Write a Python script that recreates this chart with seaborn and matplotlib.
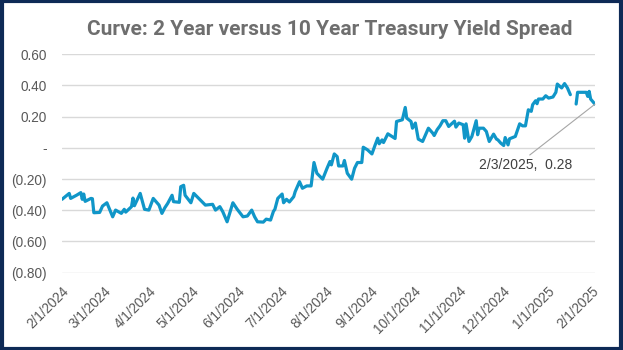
import matplotlib
matplotlib.use("Agg")
import matplotlib.pyplot as plt
import matplotlib.patches as mpatches
import seaborn as sns
import pandas as pd
import numpy as np

dates = [
    "2024-02-01", "2024-02-06", "2024-02-07", "2024-02-11", "2024-02-14", "2024-02-15", "2024-02-16", "2024-02-17",
    "2024-02-21", "2024-02-22", "2024-02-23", "2024-02-27", "2024-02-29", "2024-03-03", "2024-03-07", "2024-03-09",
    "2024-03-13", "2024-03-15", "2024-03-16", "2024-03-20", "2024-03-21", "2024-03-22", "2024-03-26", "2024-03-29",
    "2024-04-01", "2024-04-04", "2024-04-08", "2024-04-10", "2024-04-12", "2024-04-14", "2024-04-17", "2024-04-18",
    "2024-04-22", "2024-04-23", "2024-04-25", "2024-04-26", "2024-04-30", "2024-05-02", "2024-05-06", "2024-05-10",
    "2024-05-15", "2024-05-17", "2024-05-20", "2024-05-22", "2024-05-25", "2024-05-29", "2024-06-01", "2024-06-05",
    "2024-06-08", "2024-06-11", "2024-06-13", "2024-06-15", "2024-06-19", "2024-06-21", "2024-06-24", "2024-06-26",
    "2024-06-27", "2024-06-29", "2024-07-02", "2024-07-03", "2024-07-05", "2024-07-07", "2024-07-10", "2024-07-11",
    "2024-07-14", "2024-07-16", "2024-07-19", "2024-07-22", "2024-07-24", "2024-07-26", "2024-07-30", "2024-08-02",
    "2024-08-04", "2024-08-05", "2024-08-07", "2024-08-09", "2024-08-10", "2024-08-13", "2024-08-14", "2024-08-16",
    "2024-08-19", "2024-08-21", "2024-08-23", "2024-08-26", "2024-08-27", "2024-08-30", "2024-09-02", "2024-09-04",
    "2024-09-06", "2024-09-07", "2024-09-09", "2024-09-10", "2024-09-13", "2024-09-18", "2024-09-19", "2024-09-23",
    "2024-09-25", "2024-09-26", "2024-09-29", "2024-09-30", "2024-10-02", "2024-10-04", "2024-10-07", "2024-10-11",
    "2024-10-14", "2024-10-15", "2024-10-17", "2024-10-19", "2024-10-21", "2024-10-23", "2024-10-25", "2024-10-29",
    "2024-10-30", "2024-11-01", "2024-11-04", "2024-11-05", "2024-11-06", "2024-11-08", "2024-11-10", "2024-11-13",
    "2024-11-14", "2024-11-15", "2024-11-18", "2024-11-20", "2024-11-22", "2024-11-25", "2024-11-27", "2024-11-28",
    "2024-11-30", "2024-12-02", "2024-12-03", "2024-12-05", "2024-12-06", "2024-12-10", "2024-12-13", "2024-12-15",
    "2024-12-17", "2024-12-19", "2024-12-21", "2024-12-22", "2024-12-24", "2024-12-25", "2024-12-26", "2024-12-29",
    "2024-12-31", "2025-01-02", "2025-01-05", "2025-01-07", "2025-01-08", "2025-01-11", "2025-01-13", "2025-01-15",
    "2025-01-17", "2025-01-20", "2025-01-21", "2025-01-22", "2025-01-28", "2025-01-29", "2025-01-30", "2025-01-31",
    "2025-02-03",
]

spread = [
    -0.330, -0.292, -0.324, -0.304, -0.287, -0.330, -0.296, -0.343,
    -0.324, -0.326, -0.416, -0.414, -0.373, -0.352, -0.442, -0.399,
    -0.420, -0.394, -0.412, -0.377, -0.322, -0.371, -0.292, -0.394,
    -0.399, -0.324, -0.367, -0.420, -0.384, -0.356, -0.304, -0.345,
    -0.349, -0.249, -0.240, -0.304, -0.352, -0.292, -0.330, -0.367,
    -0.362, -0.399, -0.377, -0.409, -0.474, -0.352, -0.394, -0.442,
    -0.437, -0.399, -0.442, -0.474, -0.476, -0.457, -0.463, -0.407,
    -0.394, -0.324, -0.296, -0.352, -0.330, -0.347, -0.313, -0.281,
    -0.217, -0.259, -0.244, -0.244, -0.094, -0.163, -0.201, -0.131,
    -0.088, -0.109, -0.039, -0.056, -0.116, -0.116, -0.081, -0.163,
    -0.201, -0.131, -0.094, -0.094, 0.004, -0.013, -0.039, 0.013,
    0.062, 0.026, 0.051, 0.034, 0.090, 0.060, 0.169, 0.180,
    0.259, 0.191, 0.169, 0.126, 0.159, 0.056, 0.041, 0.126,
    0.094, 0.079, 0.116, 0.141, 0.174, 0.174, 0.137, 0.171,
    0.133, 0.159, 0.148, 0.062, 0.154, 0.041, 0.073, 0.174,
    0.084, 0.126, 0.126, 0.105, 0.041, 0.088, 0.056, 0.051,
    0.030, 0.015, 0.066, 0.019, 0.058, 0.073, 0.154, 0.141,
    0.141, 0.244, 0.234, 0.277, 0.302, 0.283, 0.313, 0.313,
    0.334, 0.319, 0.326, 0.356, 0.409, 0.384, 0.412, 0.384,
    0.341, np.nan, 0.281, 0.356, 0.356, 0.330, 0.362, 0.313,
    0.280,
]

tick_dates = ["2024-02-01", "2024-03-01", "2024-04-01", "2024-05-01", "2024-06-01", "2024-07-01",
              "2024-08-01", "2024-09-01", "2024-10-01", "2024-11-01", "2024-12-01", "2025-01-01", "2025-02-01"]
tick_labels = ["2/1/2024", "3/1/2024", "4/1/2024", "5/1/2024", "6/1/2024", "7/1/2024", "8/1/2024",
               "9/1/2024", "10/1/2024", "11/1/2024", "12/1/2024", "1/1/2025", "2/1/2025"]
y_ticks = [0.60, 0.40, 0.20, 0.0, -0.20, -0.40, -0.60, -0.80]
y_labels = ["0.60", "0.40", "0.20", "-", "(0.20)", "(0.40)", "(0.60)", "(0.80)"]
title = "Curve: 2 Year versus 10 Year Treasury Yield Spread"
annot_label = "2/3/2025,  0.28"

df = pd.DataFrame({"date": pd.to_datetime(dates), "spread": spread})
df["segment"] = df["spread"].isna().cumsum()

sns.set_theme(style="white")
plt.rcParams["font.family"] = ["Liberation Sans", "DejaVu Sans"]

fig = plt.figure(figsize=(6.23, 3.5), dpi=100)
ax = fig.add_axes([0.0995, 0.221, 0.8555, 0.624])

line_color = "#1096C8"
for _, seg in df.dropna().groupby("segment"):
    sns.lineplot(data=seg, x="date", y="spread", ax=ax, color=line_color, linewidth=2.3,
                 estimator=None, sort=True)

ax.set_ylim(-0.80, 0.60)
ax.set_xlim(pd.Timestamp(dates[0]), pd.Timestamp(dates[-1]))
ax.set_yticks(y_ticks)
ax.set_yticklabels(y_labels)
ax.set_xticks(pd.to_datetime(tick_dates))
ax.set_xticklabels(tick_labels, rotation=45, ha="right", rotation_mode="anchor")
ax.tick_params(axis="both", colors="#595959", labelsize=9.8, length=0)
ax.tick_params(axis="y", pad=11)
ax.tick_params(axis="x", pad=8)
ax.grid(axis="y", color="#D9D9D9", linewidth=1.0)
ax.grid(axis="x", visible=False)
for s in ax.spines.values():
    s.set_visible(False)
ax.set_xlabel("")
ax.set_ylabel("")

fig.text(0.53, 0.915, title, ha="center", va="center", fontsize=15, fontweight="bold",
         color="#6E6E6E", family=["Roboto", "DejaVu Sans"])

last_date = pd.Timestamp(dates[-1])
last_val = spread[-1]
ax.annotate(annot_label, xy=(last_date, last_val), xytext=(-50, -44), textcoords="offset points",
            ha="center", va="center", fontsize=10, color="#404040",
            arrowprops=dict(arrowstyle="-", color="#A6A6A6", linewidth=0.8,
                            shrinkA=0, shrinkB=0, relpos=(0.5, 1.0)))

fig.patches.append(mpatches.Rectangle((0.003, 0.004), 0.994, 0.992, transform=fig.transFigure,
                                      fill=False, edgecolor="#0E2A56", linewidth=3.0))

fig.savefig("out.png", dpi=100)
